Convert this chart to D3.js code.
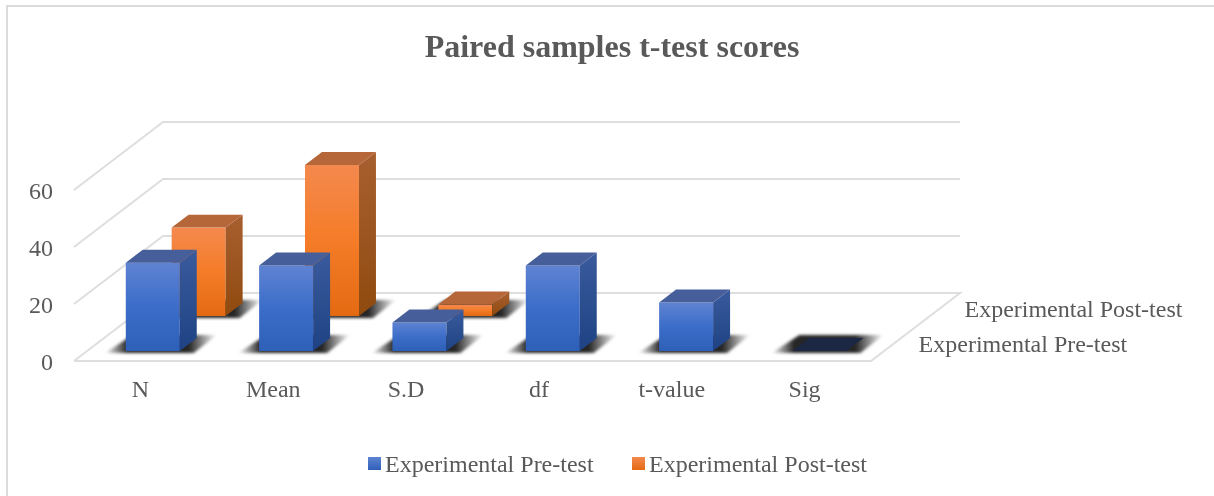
<!DOCTYPE html>
<html>
<head>
<meta charset="utf-8">
<script src="https://cdn.jsdelivr.net/npm/d3@7"></script>
<style>
  body { margin: 0; background: #fff; }
  svg { display: block; }
  text { font-family: "Liberation Serif", serif; fill: #595959; filter: blur(0.3px); }
  .grid { filter: blur(0.4px); }
  .shadows { filter: blur(1.6px); }
  .bars { filter: blur(0.45px); }
</style>
</head>
<body>
<div id="chart"></div>
<script>
const categories = ["N", "Mean", "S.D", "df", "t-value", "Sig"];
const seriesNames = ["Experimental Pre-test", "Experimental Post-test"];
const preTest = [31, 30, 10, 30, 17, 0];
const postTest = [31, 53, 4, null, null, null];
const valueTicks = [0, 20, 40, 60];

const width = 1214;
const height = 496;
const floorY = 361; // front edge of the floor
const slant = 1.31; // x shift per px of depth
const labelSize = "24px";

const svg = d3.select("#chart").append("svg").attr("width", width).attr("height", height);
const defs = svg.append("defs");

function gradient(id, stops) {
  const g = defs.append("linearGradient").attr("id", id)
    .attr("x1", 0).attr("y1", 0).attr("x2", 0).attr("y2", 1);
  stops.forEach((c, i) => g.append("stop").attr("offset", i / (stops.length - 1)).attr("stop-color", c));
}
gradient("frontBlue", ["#5f83d2", "#3b6dc9", "#2f60b8"]);
gradient("sideBlue", ["#3a5a9c", "#2c4f90", "#1f4284"]);
gradient("frontOrange", ["#f4894e", "#f57c28", "#e46a12"]);
gradient("sideOrange", ["#a85f30", "#9c5520", "#8f4a0e"]);
gradient("legendBlue", ["#5f83d2", "#2f60b8"]);
gradient("legendOrange", ["#f4894e", "#e46a12"]);

// shadow fades out sideways
const fade = defs.append("linearGradient").attr("id", "shadowFade");
[[0, 0], [0.2, 0.85], [0.75, 0.85], [1, 0]].forEach(([o, a]) =>
  fade.append("stop").attr("offset", o).attr("stop-color", "#000").attr("stop-opacity", a));

const seriesStyle = [
  { front: "url(#frontBlue)", side: "url(#sideBlue)", top: "#465f9a", legend: "url(#legendBlue)" },
  { front: "url(#frontOrange)", side: "url(#sideOrange)", top: "#b5673a", legend: "url(#legendOrange)" },
];

const x = d3.scaleBand().domain(categories).range([73, 873]);
const xLabels = d3.scaleBand().domain(categories).range([74, 871]);
const depth = d3.scaleBand().domain(seriesNames).range([0, 68]).paddingInner(0.63).paddingOuter(0.286);
const y = d3.scaleLinear().domain([0, 60]).range([0, 171]);

// screen position: category x offset, depth into the floor, height above the floor
const px = (xv, d) => xv + d * slant;
const py = (d, v) => floorY - d - y(v);
const poly = (pts) => pts.map((p) => p.join(",")).join(" ");

// the frame only shows on the top and left of the picture
svg.append("path").attr("d", "M7,496V6H1214").attr("fill", "none")
  .attr("stroke", "#dcdcdc").attr("stroke-width", 2);

svg.append("text").attr("x", 612).attr("y", 57).attr("text-anchor", "middle")
  .style("font-size", "32px").style("font-weight", "bold").text("Paired samples t-test scores");

// gridlines on the wall and side
const [gridLeft, gridRight] = xLabels.range();
const grid = svg.append("g").attr("class", "grid").attr("fill", "none")
  .attr("stroke", "#dedede").attr("stroke-width", 2);
valueTicks.forEach((v) => {
  const pts = [[gridLeft, py(0, v)], [px(gridLeft, 68), py(68, v)], [px(gridRight, 68), py(68, v)]];
  if (v === 0) pts.push([gridRight, py(0, 0)], [gridLeft, py(0, 0)]);
  grid.append("polyline").attr("points", poly(pts));
});

// value labels
svg.append("g").selectAll("text").data(valueTicks).join("text")
  .attr("x", 53).attr("y", (d) => py(0, d) + 1).attr("dy", "0.33em").attr("text-anchor", "end")
  .style("font-size", labelSize).text((d) => d);

// category axis
const xAxis = svg.append("g").attr("transform", `translate(0,${floorY + 16})`)
  .call(d3.axisBottom(xLabels).tickSize(0).tickPadding(3));
xAxis.select(".domain").remove();
xAxis.selectAll("text").style("font-size", labelSize).style("font-family", null).attr("fill", null);
xAxis.attr("font-family", null).attr("font-size", null);

// depth axis labels
svg.append("g").selectAll("text").data(seriesNames).join("text")
  .attr("x", (d) => px(873, depth(d) + depth.bandwidth() / 2) + 24)
  .attr("y", (d) => floorY - depth(d) - depth.bandwidth() / 2)
  .attr("dy", "0.33em")
  .style("font-size", labelSize).text((d) => d);

// bars, back series first
const barWidth = 54;
const barSide = depth.bandwidth() * slant;
[[postTest, 1], [preTest, 0]].forEach(([values, s]) => {
  const name = seriesNames[s];
  const style = seriesStyle[s];
  const d0 = depth(name);
  const d1 = d0 + depth.bandwidth();
  const rows = categories.map((c, i) => ({ c, v: values[i] })).filter((r) => r.v !== null);

  const xFront = (r) => px(x(r.c) + x.bandwidth() / 2, d0 + depth.bandwidth() / 2) - barWidth / 2 - barSide / 2;

  svg.append("g").attr("class", "shadows").selectAll("polygon").data(rows).join("polygon")
    .attr("fill", "url(#shadowFade)")
    .attr("points", (r) => {
      const a = xFront(r);
      return poly([
        [a - 21, py(d0, 0) + 2], [a + barWidth + 14, py(d0, 0) + 2],
        [a + barWidth + barSide + 20, py(d1, 0) - 3], [a + barSide - 10, py(d1, 0) - 3],
      ]);
    });

  const bars = svg.append("g").attr("class", "bars").selectAll("g").data(rows).join("g");
  bars.filter((r) => r.v > 0).append("rect")
    .attr("x", xFront).attr("y", (r) => py(d0, r.v))
    .attr("width", barWidth).attr("height", (r) => y(r.v))
    .attr("fill", style.front);
  bars.filter((r) => r.v > 0).append("polygon")
    .attr("fill", style.side)
    .attr("points", (r) => {
      const a = xFront(r) + barWidth;
      return poly([[a, py(d0, r.v)], [a + barSide, py(d1, r.v)], [a + barSide, py(d1, 0)], [a, py(d0, 0)]]);
    });
  bars.append("polygon")
    .attr("fill", (r) => (r.v > 0 ? style.top : "#1c2743"))
    .attr("points", (r) => {
      const a = xFront(r);
      return poly([[a, py(d0, r.v)], [a + barWidth, py(d0, r.v)], [a + barWidth + barSide, py(d1, r.v)], [a + barSide, py(d1, r.v)]]);
    });
});

// legend
const legendX = [368, 632];
const legend = svg.append("g").selectAll("g").data(seriesNames).join("g")
  .attr("transform", (d, i) => `translate(${legendX[i]},457)`);
legend.append("rect").attr("width", 13).attr("height", 13)
  .attr("fill", (d, i) => seriesStyle[i].legend);
legend.append("text").attr("x", 17).attr("y", 15).style("font-size", labelSize).text((d) => d);
</script>
</body>
</html>
